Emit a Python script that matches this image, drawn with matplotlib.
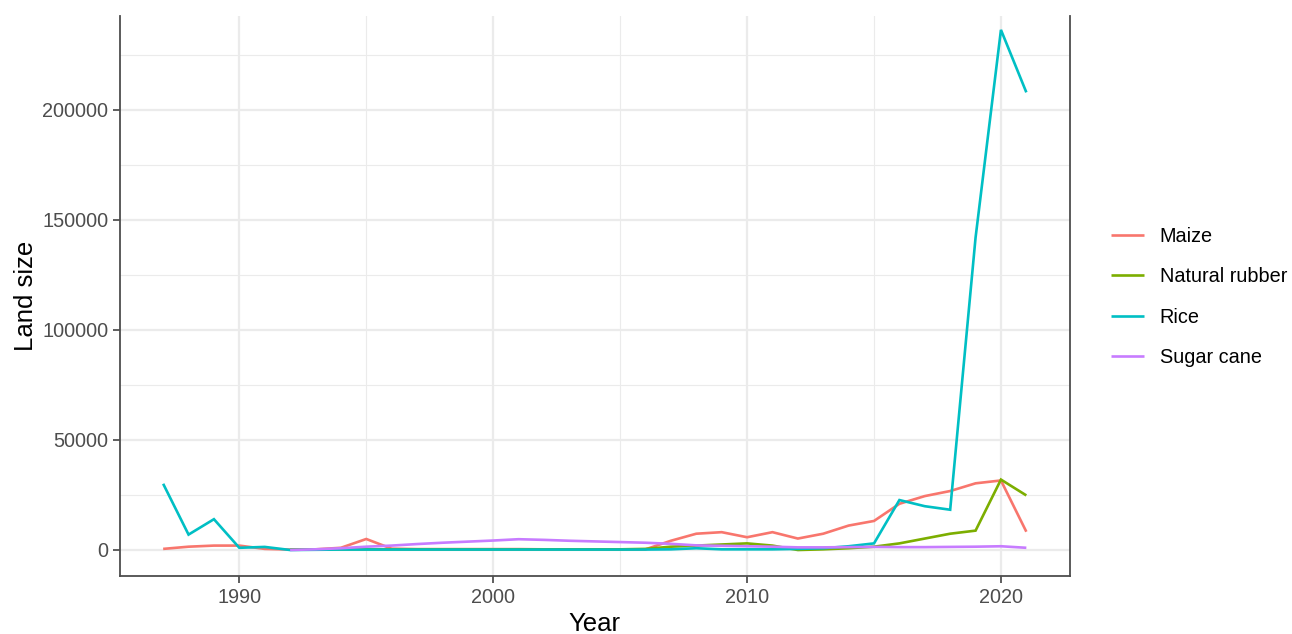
import numpy as np
import matplotlib
matplotlib.use("Agg")
import matplotlib.pyplot as plt
from matplotlib.ticker import FixedLocator, FuncFormatter

nan = np.nan

years = list(range(1987, 2022))

maize = [500, 1500, 2000, 2000, 500, 200, 300, 1000, 5000, 600,
         400, 400, 400, 400, 400, 300, 300, 300, 300, 300,
         4200, 7400, 8100, 5800, 8100, 5200, 7400, 11100, 13200, 21000,
         24500, 26800, 30300, 31600, 8300]

natural_rubber = [nan, nan, nan, nan, nan, 200, 200, 300, 300, 300,
                  300, 300, 300, 300, 300, 300, 300, 300, 300, 500,
                  1500, 2000, 2500, 3000, 2000, 0, 300, 800, 1500, 3000,
                  5200, 7400, 8800, 32000, 24800]

rice = [30100, 7000, 14000, 1000, 1400, 0, 100, 200, 200, 200,
        200, 200, 200, 200, 200, 200, 200, 200, 200, 200,
        300, 800, 300, 300, 300, 500, 800, 1700, 3000, 22700,
        19900, 18300, 142000, 236400, 208000]

sugar_cane = [nan, nan, nan, nan, nan, 0, 300, 800, 1500, 2000,
              2700, 3300, 3800, 4300, 4900, 4600, 4200, 3900, 3600, 3300,
              2800, 2100, 1900, 1700, 1500, 1200, 1200, 1300, 1400, 1300,
              1300, 1400, 1500, 1700, 1000]

series_names = ["Maize", "Natural rubber", "Rice", "Sugar cane"]
series_values = [maize, natural_rubber, rice, sugar_cane]
colors = ["#F8766D", "#7CAE00", "#00BFC4", "#C77CFF"]

x_ticks = [1990, 2000, 2010, 2020]
x_minor = [1995, 2005, 2015]
y_ticks = [0, 50000, 100000, 150000, 200000]
y_minor = [25000, 75000, 125000, 175000, 225000]

plt.rcParams["font.family"] = ["Liberation Sans", "DejaVu Sans"]

W, H = 1292, 634
fig = plt.figure(figsize=(W / 100, H / 100), dpi=100)
left, right, top, bottom = 120, 1069.5, 16, 576
ax = fig.add_axes([left / W, (H - bottom) / H, (right - left) / W, (bottom - top) / H])

for name, vals, col in zip(series_names, series_values, colors):
    ax.plot(years, vals, color=col, lw=1.9, label=name, solid_capstyle="butt",
            solid_joinstyle="miter")

ax.set_xlim(1985.3, 2022.7)
ax.set_ylim(-11820, 242700)

ax.xaxis.set_major_locator(FixedLocator(x_ticks))
ax.xaxis.set_minor_locator(FixedLocator(x_minor))
ax.yaxis.set_major_locator(FixedLocator(y_ticks))
ax.yaxis.set_minor_locator(FixedLocator(y_minor))
ax.yaxis.set_major_formatter(FuncFormatter(lambda v, p: f"{int(v)}"))

ax.grid(True, which="major", color="#EBEBEB", lw=1.6, zorder=0)
ax.grid(True, which="minor", color="#EBEBEB", lw=0.8, zorder=0)
ax.set_axisbelow(True)

for side in ["left", "right", "bottom"]:
    ax.spines[side].set_color("#4D4D4D")
    ax.spines[side].set_linewidth(1.3)
ax.spines["top"].set_visible(False)

ax.tick_params(axis="both", which="major", length=5, width=1.1, color="#333333",
               labelsize=14.3, labelcolor="#4D4D4D", pad=3.5)
ax.tick_params(axis="both", which="minor", length=0)

ax.set_xlabel("Year", fontsize=18.5, color="black", labelpad=4)
ax.set_ylabel("Land size", fontsize=18.5, color="black", labelpad=3)

leg = ax.legend(loc="center left", bbox_to_anchor=(1111 / W, (H - 297) / H),
                bbox_transform=fig.transFigure, frameon=False,
                fontsize=14.3, handlelength=1.65, handletextpad=0.8,
                labelspacing=1.08, borderaxespad=0, borderpad=0)
for line in leg.get_lines():
    line.set_linewidth(1.9)

fig.savefig("out.png", dpi=100, facecolor="white")
